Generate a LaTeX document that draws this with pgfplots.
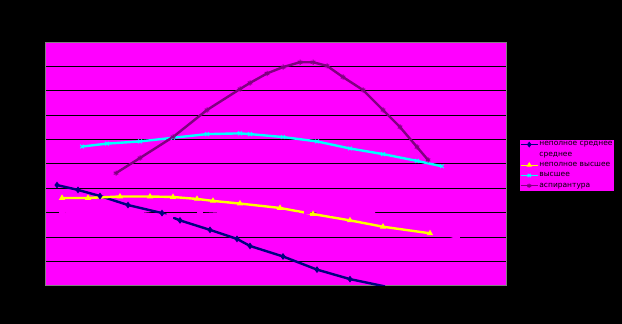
\documentclass[border=0pt]{standalone}
\usepackage{fontspec}
\setmainfont{DejaVu Sans}
\usepackage{pgfplots}
\pgfplotsset{compat=1.18}
\definecolor{navyb}{RGB}{0,0,128}
\definecolor{purp}{RGB}{128,0,128}
\definecolor{mag}{RGB}{255,0,255}
\definecolor{yel}{RGB}{255,255,0}
\definecolor{cya}{RGB}{0,255,255}
\definecolor{grayb}{RGB}{128,128,128}
\begin{document}
\begin{tikzpicture}[x=1pt,y=1pt]
\fill[black] (0,0) rectangle (622,324);
\begin{axis}[at={(45pt,38.3pt)}, anchor=south west, scale only axis,
  width=461pt, height=243.7pt,
  xmin=0, xmax=461, ymin=0, ymax=10,
  xtick=\empty, ytick={0,1,...,10}, yticklabel={},
  ymajorgrids, major grid style={black, line width=0.9pt},
  major tick length=0pt,
  axis line style={grayb, line width=0.8pt},
  axis background/.style={fill=mag},
  every axis plot/.append style={line width=2.4pt, mark size=2.6pt, mark options={solid, line width=1pt}},
  legend cell align=left,
  legend style={at={(1.028,0.602)}, anchor=north west, fill=mag, draw=black,
    font=\fontsize{7.5}{8}\selectfont, inner xsep=1pt, inner ysep=1.5pt, row sep=2.6pt,
    nodes={inner sep=1pt}},
  legend image post style={line width=1.2pt, mark size=2.2pt},
]
\addplot[navyb, mark=diamond*] coordinates {
 (12,4.13) (33,3.93) (55,3.68) (83,3.31) (117,2.98) (135,2.68) (165,2.29)
 (192,1.92) (205,1.63) (238,1.20) (272,0.66) (305,0.27) (340,-0.03)};
\addlegendentry{неполное среднее}
\addplot[mag, mark=square*] coordinates {
 (17,3.05) (48,2.98) (95,2.98) (125,2.86) (155,2.92) (178,2.98) (237,2.98)
 (262,3.08) (288,2.98) (327,2.98) (365,2.50) (412,1.97)};
\addlegendentry{среднее}
\addplot[yel, mark=triangle*] coordinates {
 (17,3.60) (43,3.60) (75,3.66) (105,3.66) (128,3.64) (152,3.56) (168,3.48)
 (195,3.37) (235,3.19) (268,2.94) (305,2.68) (338,2.42) (385,2.15)};
\addlegendentry{неполное высшее}
\addplot[cya, mark=x] coordinates {
 (37,5.71) (62,5.83) (95,5.92) (128,6.07) (162,6.22) (195,6.25) (205,6.22)
 (238,6.10) (272,5.92) (305,5.63) (338,5.40) (372,5.12) (397,4.90)};
\addlegendentry{высшее}
\addplot[purp, mark=asterisk] coordinates {
 (71,4.62) (95,5.24) (128,6.10) (162,7.21) (195,8.07) (205,8.32) (222,8.71)
 (238,8.97) (255,9.17) (268,9.17) (282,9.02) (298,8.56) (318,8.03) (338,7.21)
 (355,6.51) (372,5.69) (383,5.16)};
\addlegendentry{аспирантура}
\end{axis}
\pgfresetboundingbox
\path (0,0) rectangle (622,324);
\end{tikzpicture}
\end{document}
